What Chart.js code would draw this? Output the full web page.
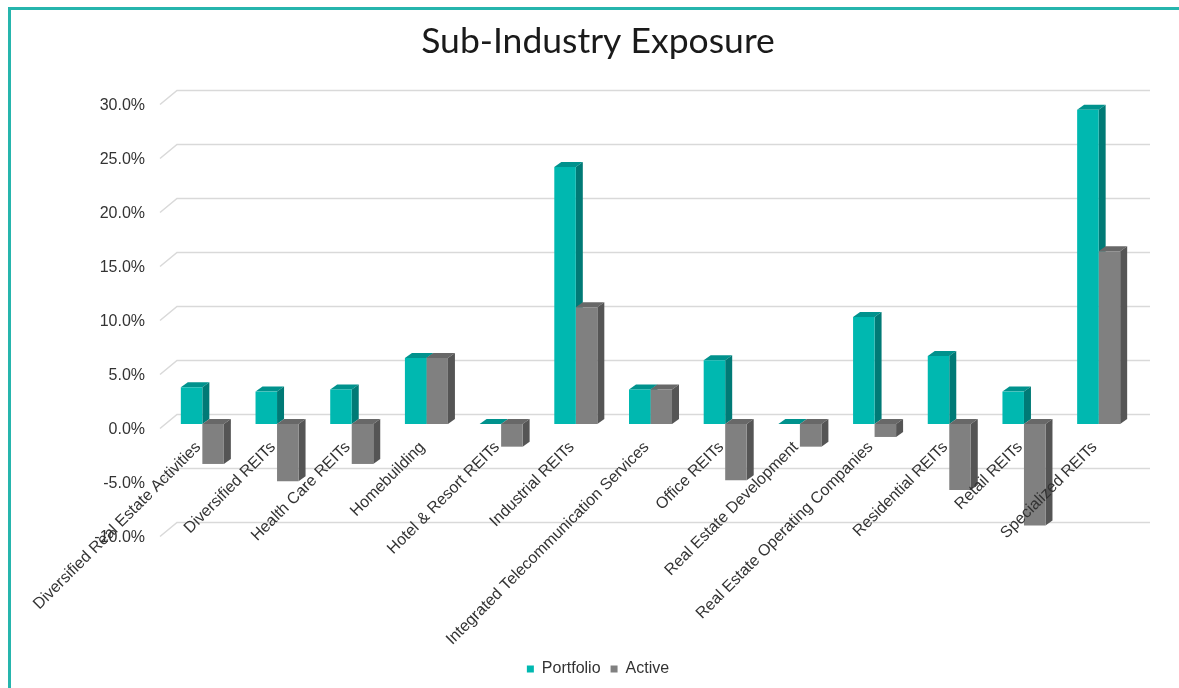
<!DOCTYPE html>
<html>
<head>
<meta charset="utf-8">
<script src="https://cdn.jsdelivr.net/npm/chart.js@4.4.0/dist/chart.umd.min.js"></script>
<style>
  html, body { margin: 0; padding: 0; background: #fff; overflow: hidden; }
  #frame {
    position: absolute; left: 8px; top: 7px; width: 2000px; height: 2000px;
    border-left: 3px solid #26b5ad; border-top: 3px solid #26b5ad;
  }
  #c { position: absolute; left: 0; top: 0; }
</style>
</head>
<body>
<div id="frame"></div>
<canvas id="c" width="1179" height="688"></canvas>
<script>
const categories = ['Diversified Real Estate Activities', 'Diversified REITs', 'Health Care REITs', 'Homebuilding',
  'Hotel & Resort REITs', 'Industrial REITs', 'Integrated Telecommunication Services', 'Office REITs',
  'Real Estate Development', 'Real Estate Operating Companies', 'Residential REITs', 'Retail REITs', 'Specialized REITs'];
const portfolio = [3.4, 3.0, 3.2, 6.1, 0.0, 23.8, 3.2, 5.9, 0.0, 9.9, 6.3, 3.0, 29.1];
const active = [-3.7, -5.3, -3.7, 6.1, -2.1, 10.8, 3.2, -5.2, -2.1, -1.2, -6.1, -9.4, 16.0];
const seriesNames = ['Portfolio', 'Active'];
const yMin = -10, yMax = 30, yStep = 5;

// front / top / side shades for the fake 3d look
const shades = [
  {front: '#00b8b0', top: '#00928d', side: '#007a76'},
  {front: '#808080', top: '#686868', side: '#555555'}
];
const depth = {dx: 7, dy: 5};

// back wall gridlines + bar top/side faces, drawn behind the bar fronts
const fake3d = {
  id: 'fake3d',
  beforeDatasetsDraw(chart) {
    const {ctx, chartArea: a, scales: {y}} = chart;
    ctx.save();
    ctx.strokeStyle = '#d9d9d9';
    ctx.lineWidth = 1.5;
    y.ticks.forEach(t => {
      const py = Math.round(y.getPixelForValue(t.value)) + 0.5;
      ctx.beginPath();
      ctx.moveTo(a.left - 5, py + 4);
      ctx.lineTo(a.left + 12, py - 10);
      ctx.lineTo(a.right + 14, py - 10);
      ctx.stroke();
    });
    chart.data.datasets.forEach((ds, i) => {
      const meta = chart.getDatasetMeta(i);
      meta.data.forEach(bar => {
        const p = bar.getProps(['x', 'y', 'base', 'width'], true);
        const l = p.x - p.width / 2, r = p.x + p.width / 2;
        const hi = Math.min(p.y, p.base), lo = Math.max(p.y, p.base);
        ctx.fillStyle = shades[i].top;
        ctx.beginPath();
        ctx.moveTo(l, hi);
        ctx.lineTo(l + depth.dx, hi - depth.dy);
        ctx.lineTo(r + depth.dx, hi - depth.dy);
        ctx.lineTo(r, hi);
        ctx.closePath();
        ctx.fill();
        ctx.fillStyle = shades[i].side;
        ctx.beginPath();
        ctx.moveTo(r, hi);
        ctx.lineTo(r + depth.dx, hi - depth.dy);
        ctx.lineTo(r + depth.dx, lo - depth.dy);
        ctx.lineTo(r, lo);
        ctx.closePath();
        ctx.fill();
      });
    });
    ctx.restore();
  }
};

Chart.defaults.font.family = "'Liberation Sans', Arial, sans-serif";
Chart.defaults.font.size = 16;
Chart.defaults.color = '#333';

new Chart(document.getElementById('c'), {
  type: 'bar',
  data: {
    labels: categories,
    datasets: [
      {label: seriesNames[0], data: portfolio, backgroundColor: shades[0].front},
      {label: seriesNames[1], data: active, backgroundColor: shades[1].front}
    ]
  },
  options: {
    responsive: false,
    animation: false,
    devicePixelRatio: 1,
    categoryPercentage: 0.576,
    barPercentage: 1.0,
    layout: {padding: {left: 60, right: 43, top: 0, bottom: 1}},
    scales: {
      x: {
        position: {y: 0},
        grid: {display: false},
        border: {display: false},
        ticks: {autoSkip: false, minRotation: 45, maxRotation: 45, padding: 6, labelOffset: -4, z: 1, color: '#333'},
        afterFit: s => { s.height = 0; }
      },
      pad: {
        type: 'category',
        position: 'bottom',
        grid: {display: false},
        border: {display: false},
        ticks: {display: false},
        afterFit: s => { s.height = 119; }
      },
      y: {
        min: yMin,
        max: yMax,
        grid: {display: false},
        border: {display: false},
        ticks: {
          stepSize: yStep,
          padding: 12,
          labelOffset: 6,
          color: '#333',
          callback: v => v.toFixed(1) + '%'
        },
        afterFit: s => { s.width = 105; }
      }
    },
    plugins: {
      title: {
        display: true,
        text: 'Sub-Industry Exposure',
        color: '#1a1a1a',
        font: {family: 'Lato', size: 35.5, weight: 'normal'},
        padding: {top: 20, bottom: 37.4}
      },
      legend: {
        position: 'bottom',
        labels: {boxWidth: 7, boxHeight: 7, padding: 10, color: '#333', font: {size: 16}}
      },
      tooltip: {enabled: false}
    }
  },
  plugins: [fake3d]
});
</script>
</body>
</html>
